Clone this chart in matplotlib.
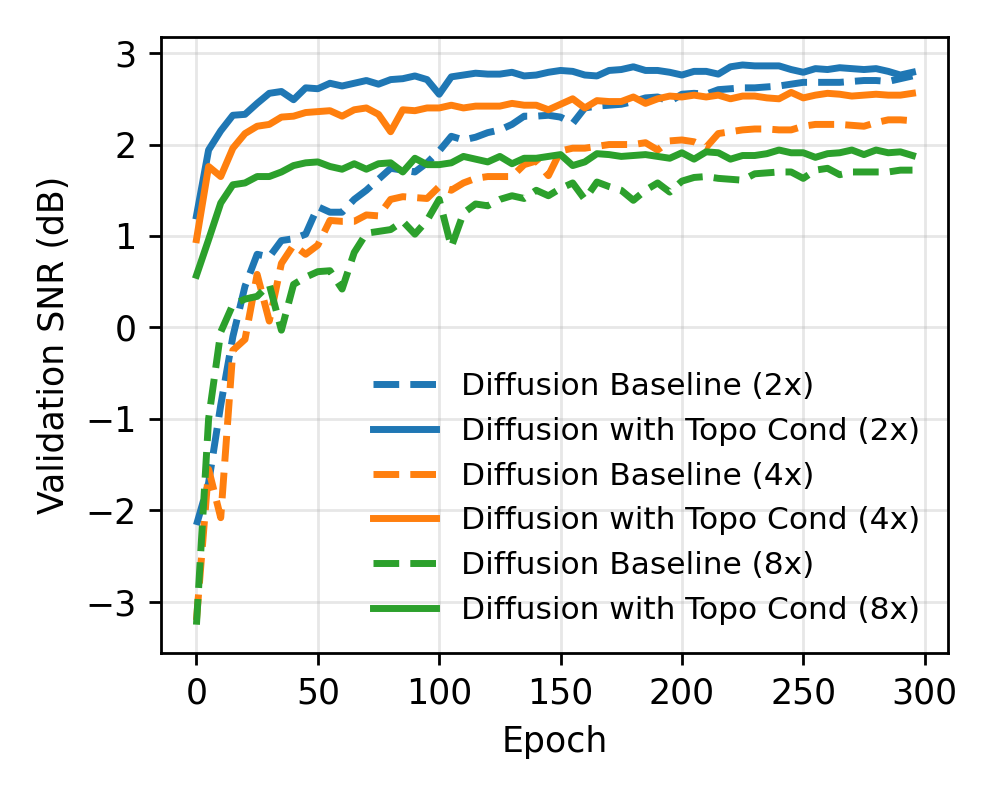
import numpy as np
import matplotlib
matplotlib.use('Agg')
import matplotlib.pyplot as plt

# validation SNR (dB), logged every 5 epochs
epochs = np.arange(0, 300, 5)

base_2x = [-2.16, -1.70, -0.85, -0.10, 0.45, 0.80, 0.77, 0.95, 0.97, 1.02,
           1.32, 1.26, 1.26, 1.40, 1.50, 1.62, 1.74, 1.72, 1.70, 1.80,
           1.93, 2.09, 2.05, 2.08, 2.13, 2.16, 2.22, 2.31, 2.31, 2.32,
           2.30, 2.23, 2.40, 2.42, 2.43, 2.44, 2.47, 2.51, 2.52, 2.47,
           2.55, 2.56, 2.55, 2.60, 2.61, 2.62, 2.62, 2.63, 2.64, 2.66,
           2.68, 2.68, 2.68, 2.68, 2.69, 2.70, 2.70, 2.69, 2.72, 2.75]
topo_2x = [1.22, 1.94, 2.15, 2.32, 2.33, 2.45, 2.56, 2.58, 2.49, 2.62,
           2.61, 2.67, 2.64, 2.67, 2.70, 2.66, 2.71, 2.72, 2.75, 2.71,
           2.55, 2.74, 2.76, 2.78, 2.77, 2.77, 2.79, 2.75, 2.76, 2.79,
           2.81, 2.80, 2.76, 2.75, 2.81, 2.82, 2.85, 2.81, 2.81, 2.79,
           2.76, 2.80, 2.80, 2.77, 2.85, 2.87, 2.86, 2.86, 2.86, 2.82,
           2.79, 2.83, 2.82, 2.84, 2.83, 2.82, 2.83, 2.80, 2.76, 2.79]
base_4x = [-3.20, -1.55, -2.08, -0.25, -0.13, 0.58, 0.07, 0.70, 0.90, 0.80,
           0.90, 1.17, 1.16, 1.16, 1.23, 1.22, 1.40, 1.43, 1.42, 1.41,
           1.54, 1.50, 1.58, 1.63, 1.65, 1.65, 1.65, 1.78, 1.82, 1.66,
           1.93, 1.96, 1.96, 1.98, 2.00, 2.00, 2.00, 2.02, 1.94, 2.04,
           2.05, 2.03, 1.97, 2.12, 2.14, 2.16, 2.17, 2.17, 2.16, 2.16,
           2.20, 2.22, 2.22, 2.22, 2.21, 2.20, 2.24, 2.27, 2.27, 2.26]
topo_4x = [0.96, 1.76, 1.65, 1.96, 2.12, 2.20, 2.22, 2.30, 2.31, 2.35,
           2.36, 2.37, 2.31, 2.38, 2.40, 2.33, 2.14, 2.38, 2.37, 2.40,
           2.40, 2.43, 2.40, 2.42, 2.42, 2.42, 2.45, 2.43, 2.43, 2.38,
           2.44, 2.50, 2.40, 2.48, 2.47, 2.47, 2.52, 2.45, 2.50, 2.53,
           2.52, 2.54, 2.52, 2.54, 2.50, 2.53, 2.53, 2.51, 2.50, 2.57,
           2.51, 2.54, 2.56, 2.55, 2.53, 2.54, 2.55, 2.54, 2.54, 2.56]
base_8x = [-3.25, -1.00, -0.05, 0.25, 0.31, 0.34, 0.47, -0.03, 0.47, 0.55,
           0.61, 0.62, 0.42, 0.82, 1.03, 1.05, 1.07, 1.16, 1.02, 1.17,
           1.40, 0.88, 1.25, 1.35, 1.33, 1.40, 1.44, 1.41, 1.50, 1.44,
           1.52, 1.58, 1.40, 1.59, 1.54, 1.50, 1.39, 1.50, 1.58, 1.48,
           1.60, 1.64, 1.65, 1.63, 1.62, 1.61, 1.68, 1.69, 1.70, 1.70,
           1.63, 1.72, 1.74, 1.67, 1.70, 1.70, 1.70, 1.70, 1.72, 1.72]
topo_8x = [0.57, 0.96, 1.36, 1.56, 1.58, 1.65, 1.65, 1.70, 1.77, 1.80,
           1.81, 1.76, 1.73, 1.79, 1.73, 1.79, 1.80, 1.70, 1.85, 1.78,
           1.78, 1.80, 1.87, 1.84, 1.81, 1.87, 1.79, 1.85, 1.85, 1.87,
           1.89, 1.77, 1.81, 1.90, 1.89, 1.87, 1.88, 1.89, 1.87, 1.85,
           1.91, 1.84, 1.92, 1.91, 1.84, 1.88, 1.88, 1.90, 1.94, 1.91,
           1.91, 1.86, 1.90, 1.91, 1.94, 1.89, 1.94, 1.91, 1.92, 1.88]

runs = [
    (base_2x, 'C0', '--', 'Diffusion Baseline (2x)'),
    (topo_2x, 'C0', '-',  'Diffusion with Topo Cond (2x)'),
    (base_4x, 'C1', '--', 'Diffusion Baseline (4x)'),
    (topo_4x, 'C1', '-',  'Diffusion with Topo Cond (4x)'),
    (base_8x, 'C2', '--', 'Diffusion Baseline (8x)'),
    (topo_8x, 'C2', '-',  'Diffusion with Topo Cond (8x)'),
]

DPI = 250
fig, ax = plt.subplots(figsize=(996 / DPI, 797 / DPI), dpi=DPI)
fig.subplots_adjust(left=0.1613, right=0.9521, bottom=0.1811, top=0.9536)

for vals, col, ls, lbl in runs:
    ax.plot(epochs, vals, color=col, ls=ls, lw=2, label=lbl)

ax.set_xlabel('Epoch')
ax.set_ylabel('Validation SNR (dB)')
ax.set_xticks([0, 50, 100, 150, 200, 250, 300])
ax.set_yticks([-3, -2, -1, 0, 1, 2, 3])
ax.grid(True, alpha=0.3)
ax.legend(loc='lower right', fontsize=9, frameon=False)

fig.savefig('out.png', dpi=DPI, facecolor='white')
